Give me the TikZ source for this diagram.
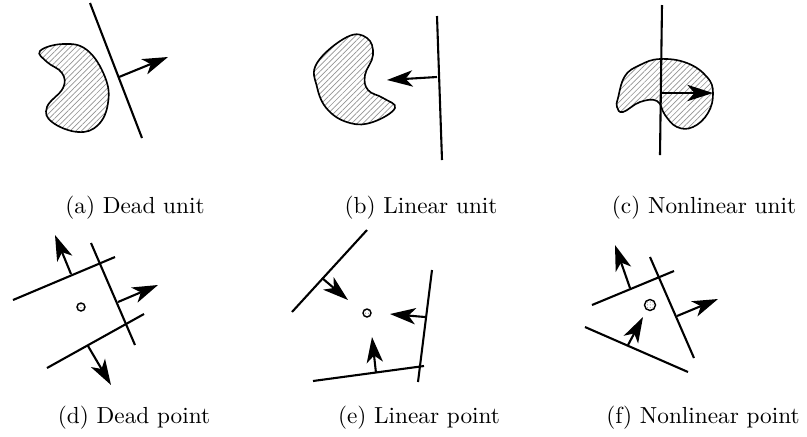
\documentclass[tikz,border=0pt]{standalone}
\usepackage{tikz}
\usetikzlibrary{arrows.meta, patterns.meta}

\begin{document}
\begin{tikzpicture}[
    x=0.43pt, y=-0.43pt,
    plane/.style={line width=0.9pt},
    normal/.style={-{Stealth[length=11pt, width=7pt, inset=3pt]}, line width=0.9pt},
    blob/.style={draw, line width=0.7pt,
                 pattern={Lines[angle=45, distance=1.7pt, line width=0.3pt]},
                 pattern color=gray!85},
    pt/.style={draw, line width=0.6pt,
               pattern={Dots[distance=1.2pt, radius=0.25pt]}, pattern color=gray},
    sublabel/.style={anchor=base, font=\normalsize},
]
    \useasboundingbox (0,0) rectangle (807,436);

    %==================== (a) DEAD UNIT ====================
    \draw[blob] plot[smooth cycle, tension=0.7] coordinates {
        (40,51) (63,44) (87,50) (105,77) (108,103) (98,125) (78,132)
        (52,122) (47,107) (63,88) (62,73) (47,62)};
    \draw[plane] (90,3) -- (142,138);
    \draw[normal] (119,77) -- (168,57);
    \node[sublabel] (capa) at (135,213) {(a) Dead unit};

    %==================== (b) LINEAR UNIT ====================
    \draw[blob] plot[smooth cycle, tension=0.7] coordinates {
        (347,37) (317,63) (317,87) (328,110) (350,123) (373,122)
        (395,108) (383,98) (368,90) (365,75) (373,55) (367,38)};
    \draw[plane] (437,16) -- (442,160);
    \draw[normal] (437,77) -- (387,80);
    \node[sublabel] (capb) at (421,213) {(b) Linear unit};

    %==================== (c) NONLINEAR UNIT ====================
    \draw[blob] plot[smooth cycle, tension=0.7] coordinates {
        (618,98) (625,76) (640,65) (660,59) (687,63) (707,77) (713,93)
        (708,113) (693,127) (677,127) (665,115) (657,101)
        (640,102) (623,112) (617,107)};
    \draw[plane] (662,5) -- (660,155);
    \draw[normal] (661,93) -- (713,93);
    \node[sublabel] (capc) at (704,213) {(c) Nonlinear unit};

    %==================== (d) DEAD POINT ====================
    \draw[plane] (13,300) -- (115,257);
    \draw[plane] (91,243) -- (135,345);
    \draw[plane] (47,368) -- (144,314);
    \draw[normal] (71,274) -- (55,235);
    \draw[normal] (118,302) -- (158,285);
    \draw[normal] (88,346) -- (111,385);
    \draw[pt] (81,307) circle (4);
    \node[sublabel] (capd) at (134,423) {(d) Dead point};

    %==================== (e) LINEAR POINT ====================
    \draw[plane] (292,312) -- (367,230);
    \draw[plane] (432,270) -- (418,382);
    \draw[plane] (313,381) -- (424,366);
    \draw[normal] (322,278) -- (348,300);
    \draw[normal] (425,317) -- (390,314);
    \draw[normal] (376,373) -- (372,337);
    \draw[pt] (367,313) circle (4);
    \node[sublabel] (cape) at (419,423) {(e) Linear point};

    %==================== (f) NONLINEAR POINT ====================
    \draw[plane] (592,305) -- (674,271);
    \draw[plane] (650,257) -- (694,358);
    \draw[plane] (585,327) -- (688,372);
    \draw[normal] (630,288) -- (615,245);
    \draw[normal] (677,316) -- (718,299);
    \draw[normal] (628,345) -- (643,317);
    \draw[pt] (650,305) circle (5.5);
    \node[sublabel] (capf) at (703,423) {(f) Nonlinear point};

\end{tikzpicture}
\end{document}
